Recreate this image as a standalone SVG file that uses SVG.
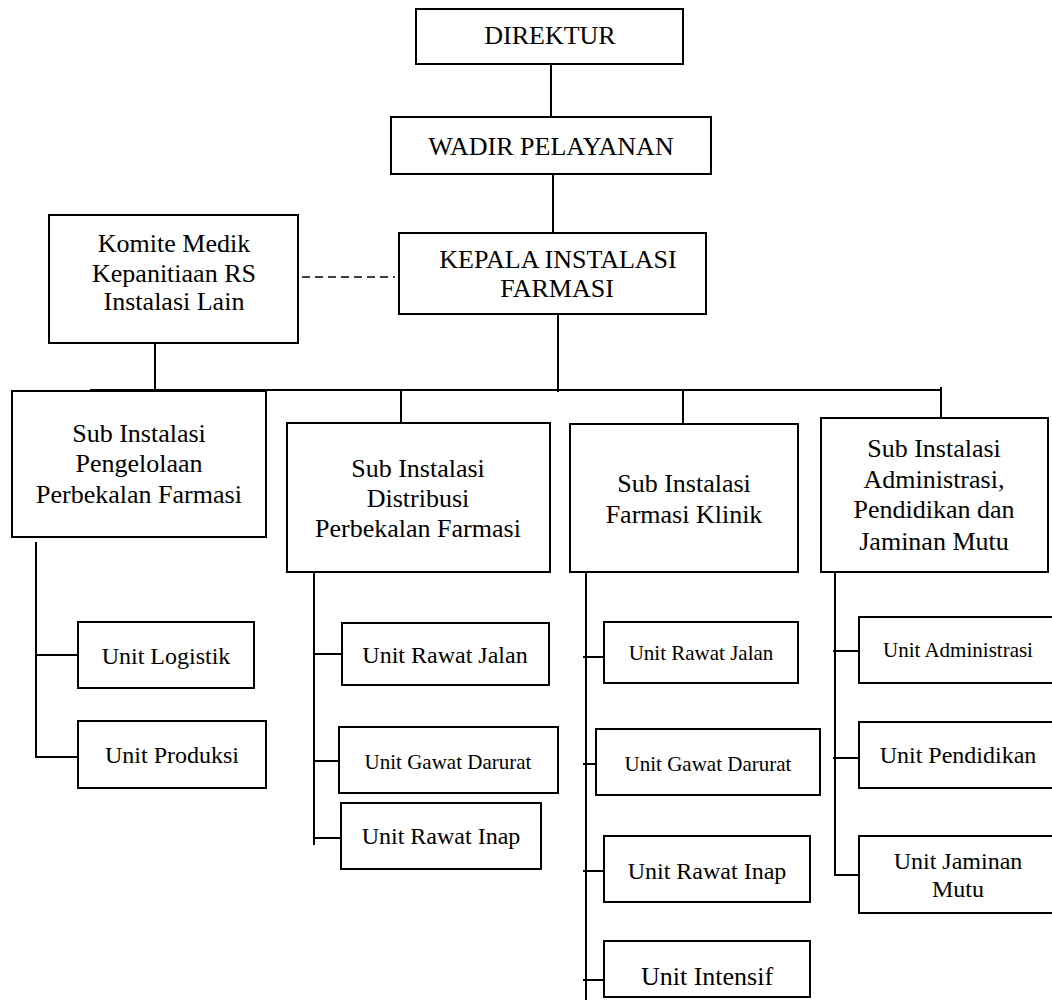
<svg xmlns="http://www.w3.org/2000/svg" width="1052" height="1002" viewBox="0 0 1052 1002">
<style>
.box{fill:#fff;stroke:#000;stroke-width:2}
.ln{stroke:#000;stroke-width:2;fill:none}
.dash{stroke:#000;stroke-width:1.5;stroke-dasharray:8 5;fill:none}
text{font-family:"Liberation Serif","Times New Roman",serif;fill:#000;text-anchor:middle}
.f26{font-size:26px}
.f24{font-size:24px}
.f21{font-size:21px}
</style>
<rect width="1052" height="1002" fill="#fff"/>
<g id="connectors">
<line class="ln" x1="551" y1="64" x2="551" y2="117"/>
<line class="ln" x1="553" y1="174" x2="553" y2="233"/>
<line class="dash" x1="302" y1="277" x2="395" y2="277"/>
<line class="ln" x1="155" y1="343" x2="155" y2="390"/>
<line class="ln" x1="558" y1="314" x2="558" y2="392"/>
<line class="ln" x1="90" y1="390" x2="941" y2="390"/>
<line class="ln" x1="401" y1="390" x2="401" y2="423"/>
<line class="ln" x1="683" y1="390" x2="683" y2="424"/>
<line class="ln" x1="941" y1="387" x2="941" y2="418"/>
<polyline class="ln" points="36,542 36,757 78,757"/>
<line class="ln" x1="36" y1="655" x2="78" y2="655"/>
<line class="ln" x1="314" y1="569" x2="314" y2="845"/>
<line class="ln" x1="314" y1="654" x2="342" y2="654"/>
<line class="ln" x1="314" y1="761" x2="339" y2="761"/>
<line class="ln" x1="314" y1="838" x2="341" y2="838"/>
<line class="ln" x1="586" y1="572" x2="586" y2="1000"/>
<line class="ln" x1="583" y1="657" x2="604" y2="657"/>
<line class="ln" x1="583" y1="764" x2="596" y2="764"/>
<line class="ln" x1="583" y1="871" x2="604" y2="871"/>
<line class="ln" x1="583" y1="980" x2="604" y2="980"/>
<polyline class="ln" points="835,572 835,875 859,875"/>
<line class="ln" x1="833" y1="651" x2="859" y2="651"/>
<line class="ln" x1="833" y1="758" x2="859" y2="758"/>
</g>
<g id="direktur"><rect class="box" x="416" y="9" width="267" height="55"/><text class="f26" x="550" y="44">DIREKTUR</text></g>
<g id="wadir"><rect class="box" x="391" y="117" width="320" height="57"/><text class="f26" x="551" y="155">WADIR PELAYANAN</text></g>
<g id="kepala"><rect class="box" x="399" y="233" width="307" height="81"/><text class="f26" x="558" y="268">KEPALA INSTALASI</text><text class="f26" x="557" y="297">FARMASI</text></g>
<g id="komite"><rect class="box" x="49" y="215" width="249" height="128"/><text class="f26" x="174" y="252">Komite Medik</text><text class="f26" x="174" y="282">Kepanitiaan RS</text><text class="f26" x="174" y="310">Instalasi Lain</text></g>
<g id="sub-pengelolaan"><rect class="box" x="12" y="391" width="254" height="146"/><text class="f26" x="139" y="442">Sub Instalasi</text><text class="f26" x="139" y="472">Pengelolaan</text><text class="f26" x="139" y="503">Perbekalan Farmasi</text></g>
<g id="sub-distribusi"><rect class="box" x="287" y="423" width="263" height="149"/><text class="f26" x="418" y="477">Sub Instalasi</text><text class="f26" x="418" y="507">Distribusi</text><text class="f26" x="418" y="537">Perbekalan Farmasi</text></g>
<g id="sub-klinik"><rect class="box" x="570" y="424" width="228" height="148"/><text class="f26" x="684" y="492">Sub Instalasi</text><text class="f26" x="684" y="523">Farmasi Klinik</text></g>
<g id="sub-admin"><rect class="box" x="821" y="418" width="227" height="154"/><text class="f26" x="934" y="457">Sub Instalasi</text><text class="f26" x="934" y="488">Administrasi,</text><text class="f26" x="934" y="518">Pendidikan dan</text><text class="f26" x="934" y="550">Jaminan Mutu</text></g>
<g id="unit-logistik"><rect class="box" x="78" y="622" width="176" height="66"/><text class="f24" x="166" y="664">Unit Logistik</text></g>
<g id="unit-produksi"><rect class="box" x="78" y="721" width="188" height="67"/><text class="f24" x="172" y="763">Unit Produksi</text></g>
<g id="dist-rawat-jalan"><rect class="box" x="342" y="623" width="207" height="62"/><text class="f24" x="445" y="663">Unit Rawat Jalan</text></g>
<g id="dist-gawat-darurat"><rect class="box" x="339" y="727" width="219" height="66"/><text class="f21" x="448" y="769">Unit Gawat Darurat</text></g>
<g id="dist-rawat-inap"><rect class="box" x="341" y="803" width="200" height="66"/><text class="f24" x="441" y="844">Unit Rawat Inap</text></g>
<g id="klinik-rawat-jalan"><rect class="box" x="604" y="622" width="194" height="61"/><text class="f21" x="701" y="660">Unit Rawat Jalan</text></g>
<g id="klinik-gawat-darurat"><rect class="box" x="596" y="729" width="224" height="66"/><text class="f21" x="708" y="771">Unit Gawat Darurat</text></g>
<g id="klinik-rawat-inap"><rect class="box" x="604" y="836" width="206" height="66"/><text class="f24" x="707" y="879">Unit Rawat Inap</text></g>
<g id="klinik-intensif"><rect class="box" x="604" y="941" width="206" height="56"/><text class="f26" x="707" y="985">Unit Intensif</text></g>
<g id="unit-administrasi"><rect class="box" x="859" y="617" width="200" height="66"/><text class="f21" x="958" y="657">Unit Administrasi</text></g>
<g id="unit-pendidikan"><rect class="box" x="859" y="722" width="200" height="66"/><text class="f24" x="958" y="763">Unit Pendidikan</text></g>
<g id="unit-jaminan-mutu"><rect class="box" x="859" y="836" width="200" height="77"/><text class="f24" x="958" y="869">Unit Jaminan</text><text class="f24" x="958" y="897">Mutu</text></g>
</svg>
